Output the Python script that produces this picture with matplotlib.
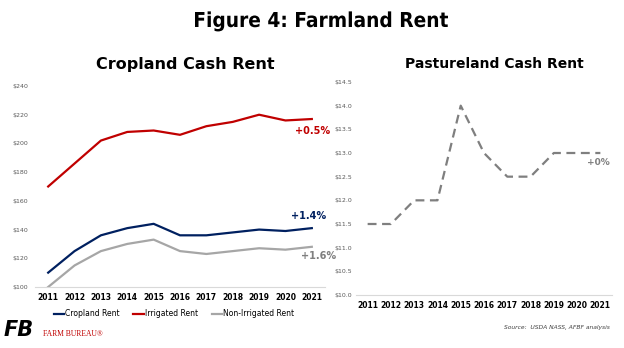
import matplotlib
matplotlib.use("Agg")
import matplotlib.pyplot as plt
from matplotlib.lines import Line2D
from matplotlib.textpath import TextPath
from matplotlib.patches import PathPatch
from matplotlib.font_manager import FontProperties
from matplotlib.transforms import Affine2D

years = [str(y) for y in range(2011, 2022)]
cropland = [110, 125, 136, 141, 144, 136, 136, 138, 140, 139, 141]
irrigated = [170, 186, 202, 208, 209, 206, 212, 215, 220, 216, 217]
non_irrigated = [100, 115, 125, 130, 133, 125, 123, 125, 127, 126, 128]
pasture = [11.5, 11.5, 12.0, 12.0, 14.0, 13.0, 12.5, 12.5, 13.0, 13.0, 13.0]

crop_ticks = list(range(100, 241, 20))
past_ticks = [10.0, 10.5, 11.0, 11.5, 12.0, 12.5, 13.0, 13.5, 14.0, 14.5]

NAVY = "#002060"; RED = "#C00000"; LGRAY = "#A6A6A6"; DGRAY = "#7F7F7F"
TICKC = "#595959"

W, H = 624, 348
fig = plt.figure(figsize=(W / 100, H / 100), dpi=100)


def px(l, t, r, b):
    return [l / W, 1 - b / H, (r - l) / W, (b - t) / H]


def style(ax, ypad):
    for s in ("top", "right", "left"):
        ax.spines[s].set_visible(False)
    ax.spines["bottom"].set_color("#D9D9D9")
    ax.tick_params(axis="y", length=0, labelsize=4.5, labelcolor=TICKC, pad=ypad)
    ax.tick_params(axis="x", length=0, labelsize=5.5, pad=4)
    for t in ax.get_xticklabels():
        t.set_fontweight("bold")
    ax.set_xlim(-0.5, len(years) - 0.5)


x = list(range(len(years)))

axL = fig.add_axes(px(35, 86, 325, 287))
axL.plot(x, irrigated, color=RED, lw=1.6)
axL.plot(x, cropland, color=NAVY, lw=1.6)
axL.plot(x, non_irrigated, color=LGRAY, lw=1.6)
axL.set_ylim(100, 240); axL.set_yticks(crop_ticks)
axL.set_yticklabels([f"${v}" for v in crop_ticks])
axL.set_xticks(x); axL.set_xticklabels(years)
style(axL, 5)
axL.text(9.35, 208.7, "+0.5%", color=RED, fontsize=7, fontweight="bold", ha="left", va="center")
axL.text(9.2, 149.5, "+1.4%", color=NAVY, fontsize=7, fontweight="bold", ha="left", va="center")
axL.text(9.6, 121.6, "+1.6%", color=DGRAY, fontsize=7, fontweight="bold", ha="left", va="center",
         clip_on=False)

axR = fig.add_axes(px(356, 82, 612, 295))
axR.plot(x, pasture, color=DGRAY, lw=1.6, ls=(0, (4, 2.5)))
axR.set_ylim(10, 14.5); axR.set_yticks(past_ticks)
axR.set_yticklabels([f"${v:.1f}" for v in past_ticks])
axR.set_xticks(x); axR.set_xticklabels(years)
style(axR, 3)
axR.text(9.44, 12.79, "+0%", color=DGRAY, fontsize=6.5, fontweight="bold", ha="left", va="center")

# condensed heavy title: squeeze a bold text path into the reference box
tp = TextPath((0, 0), "Figure 4: Farmland Rent", size=10,
              prop=FontProperties(family="DejaVu Sans", weight="bold"))
bb = tp.get_extents()
sx = 253 / bb.width; sy = 15 / 7.29
fig.add_artist(PathPatch(tp, lw=0, color="black",
                         transform=Affine2D().scale(sx, sy).translate(195 - bb.x0 * sx, H - 27)))

fig.text(185 / W, 1 - 64 / H, "Cropland Cash Rent", ha="center", va="center", fontsize=11.5, fontweight="bold")
fig.text(494 / W, 1 - 64 / H, "Pastureland Cash Rent", ha="center", va="center", fontsize=10, fontweight="bold")

handles = [Line2D([], [], color=NAVY, lw=1.6), Line2D([], [], color=RED, lw=1.6),
           Line2D([], [], color=LGRAY, lw=1.6)]
fig.legend(handles, ["Cropland Rent", "Irrigated Rent", "Non-Irrigated Rent"], ncol=3,
           loc="center", bbox_to_anchor=(174 / W, 1 - 314 / H), frameon=False, fontsize=5.5,
           handlelength=1.4, handletextpad=0.1, columnspacing=1.8)

# logo
fig.text(4 / W, 1 - 330 / H, "FB", fontsize=15, fontweight="bold", fontstyle="italic",
         ha="left", va="center", color="black")
fig.text(43 / W, 1 - 334 / H, "FARM BUREAU\u00ae", fontsize=5.5, color=RED,
         family="Liberation Serif", ha="left", va="center")
fig.text(610 / W, 1 - 328 / H, "Source:  USDA NASS, AFBF analysis", fontsize=4.3,
         fontstyle="italic", ha="right", va="center", color="#404040")

fig.savefig("out.png", dpi=100)
